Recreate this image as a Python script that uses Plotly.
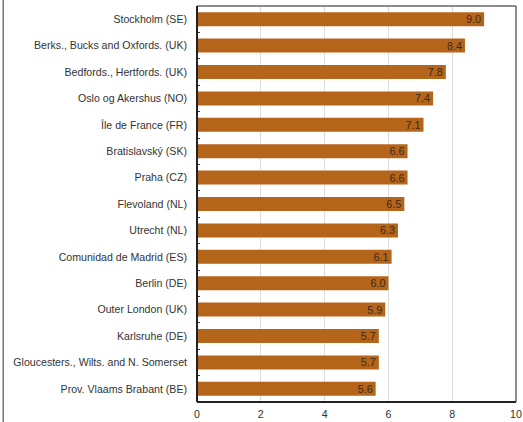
import plotly.graph_objects as go

regions = [
    "Stockholm (SE)",
    "Berks., Bucks and Oxfords. (UK)",
    "Bedfords., Hertfords. (UK)",
    "Oslo og Akershus (NO)",
    "Île de France (FR)",
    "Bratislavský (SK)",
    "Praha (CZ)",
    "Flevoland (NL)",
    "Utrecht (NL)",
    "Comunidad de Madrid (ES)",
    "Berlin (DE)",
    "Outer London (UK)",
    "Karlsruhe (DE)",
    "Gloucesters., Wilts. and N. Somerset",
    "Prov. Vlaams Brabant (BE)",
]
values = [9.0, 8.4, 7.8, 7.4, 7.1, 6.6, 6.6, 6.5, 6.3, 6.1, 6.0, 5.9, 5.7, 5.7, 5.6]
x_ticks = [0, 2, 4, 6, 8, 10]

FONT = "Liberation Sans, Arial, sans-serif"

fig = go.Figure(go.Bar(
    x=values,
    y=regions,
    orientation="h",
    marker=dict(color="#B5651A", line=dict(width=0)),
    text=[f"{v:.1f}" for v in values],
    textposition="inside",
    insidetextanchor="end",
    constraintext="none",
    textfont=dict(family=FONT, size=10.8, color="#3b2a1a"),
    cliponaxis=False,
    hoverinfo="none",
))

fig.update_layout(
    width=523, height=422,
    margin=dict(l=197, r=7, t=6, b=20, autoexpand=False),
    paper_bgcolor="white",
    plot_bgcolor="white",
    bargap=0.47,
    showlegend=False,
    font=dict(family=FONT, size=10.6, color="#333333"),
    xaxis=dict(
        range=[0, 10],
        tickvals=x_ticks,
        showgrid=True,
        gridcolor="#dddddd",
        gridwidth=1,
        zeroline=False,
        showline=False,
        ticks="",
        automargin=False,
        ticklabelstandoff=4,
        tickfont=dict(size=10.6, color="#333333"),
    ),
    yaxis=dict(
        autorange="reversed",
        showgrid=False,
        zeroline=False,
        showline=False,
        ticks="inside",
        tickson="boundaries",
        ticklen=3,
        tickcolor="#333333",
        automargin=False,
        tickfont=dict(size=10.6, color="#333333"),
        ticklabelstandoff=9,
    ),
    shapes=[
        dict(type="line", xref="paper", yref="paper", x0=0, x1=1, y0=1, y1=1,
             line=dict(color="#666666", width=1.5)),
        dict(type="line", xref="paper", yref="paper", x0=1, x1=1, y0=0, y1=1,
             line=dict(color="#666666", width=1.5)),
        dict(type="line", xref="paper", yref="paper", x0=0, x1=1, y0=0, y1=0,
             line=dict(color="#222222", width=2)),
        dict(type="line", xref="paper", yref="paper", x0=0, x1=0, y0=0, y1=1,
             line=dict(color="#222222", width=2)),
        dict(type="line", xref="paper", yref="paper", x0=-0.6075, x1=-0.6075, y0=-0.06, y1=1.02,
             line=dict(color="#777777", width=1.5)),
    ],
)

fig.write_html(
    "out.html",
    config={"displayModeBar": False, "staticPlot": True},
    post_script="document.body.style.margin='0';document.body.style.padding='0';",
)
